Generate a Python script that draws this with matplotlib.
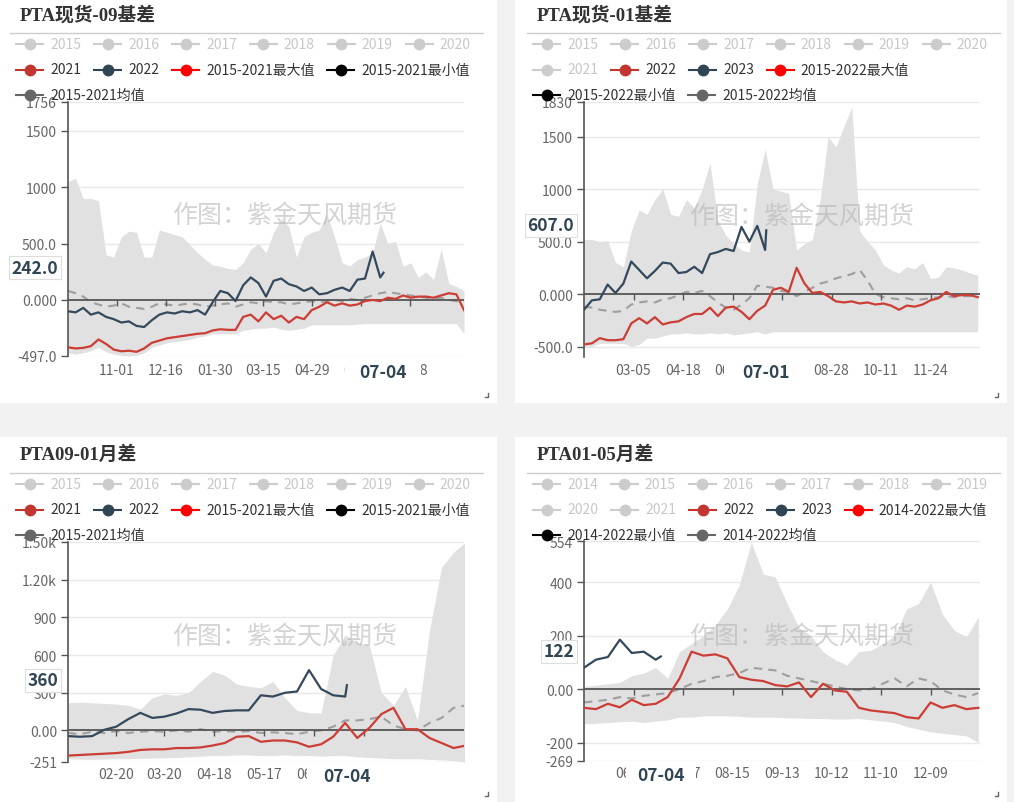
import matplotlib
matplotlib.use("Agg")
import matplotlib.pyplot as plt
import matplotlib.dates as mdates
from matplotlib.patches import Rectangle
from matplotlib.lines import Line2D
import pandas as pd

plt.rcParams['font.family'] = ['Noto Sans CJK SC', 'DejaVu Sans']

# ---------------- 数据 (周度取样, 从图上读数) ----------------
# PTA现货-09基差
p1_start, p1_end = "2021-09-17", "2022-09-16"
p1_now, p1_now_val = "2022-07-04", 242.0
p1_xticks = ["2021-11-01", "2021-12-16", "2022-01-30", "2022-03-15",
             "2022-04-29", "2022-06-13", "2022-07-28"]
p1_yticks = [-497, 0, 500, 1000, 1500, 1756]
p1_ylabels = ["-497.0", "0.000", "500.0", "1000", "1500", "1756"]
p1_legend = ["2015", "2016", "2017", "2018", "2019", "2020", "2021", "2022",
             "2015-2021最大值", "2015-2021最小值", "2015-2021均值"]
p1_2021 = [-420, -430, -425, -410, -350, -390, -440, -455, -450, -460,
           -430, -380, -360, -340, -330, -320, -310, -300, -295, -270,
           -260, -265, -265, -150, -130, -190, -110, -170, -140, -200,
           -150, -170, -90, -60, -20, -50, -30, -50, -40, -10,
           0, -10, 20, 10, 40, 20, 30, 30, 20, 40,
           60, 50, -90]
p1_2022 = [-100, -110, -70, -130, -110, -150, -170, -200, -190, -230,
           -240, -180, -130, -110, -120, -100, -110, -90, -130, -20,
           80, 60, -10, 130, 200, 150, 30, 170, 190, 140,
           120, 80, 110, 50, 60, 90, 110, 80, 180, 190,
           430, 200]
p1_mean = [80, 60, 30, -20, -40, -60, -50, -30, -60, -70,
           -80, -60, -30, -40, -50, -40, -30, -40, -60, -50,
           -40, -30, -60, -40, -20, -30, -10, -20, -20, -40,
           -30, -20, -10, -20, -10, 0, -10, 10, 0, 20,
           40, 60, 70, 60, 50, 40, 30, 20, 10, 20,
           0, -10, -20]
p1_max = [1050, 1080, 900, 900, 880, 400, 380, 560, 610, 600,
          380, 380, 620, 600, 580, 560, 490, 420, 360, 310,
          300, 280, 270, 330, 450, 500, 420, 600, 720, 650,
          380, 560, 600, 620, 760, 560, 330, 300, 360, 380,
          420, 680, 500, 520, 300, 330, 200, 250, 180, 450,
          150, 120, 80]
p1_min = [-470, -480, -470, -450, -420, -460, -480, -490, -497, -490,
          -470, -420, -400, -380, -370, -360, -350, -330, -320, -300,
          -300, -300, -300, -270, -260, -250, -250, -240, -260, -270,
          -260, -250, -220, -220, -220, -220, -220, -220, -215, -210,
          -210, -210, -210, -210, -210, -210, -210, -210, -210, -210,
          -210, -210, -300]

# PTA现货-01基差
p2_start, p2_end = "2022-01-20", "2023-01-07"
p2_now, p2_now_val = "2022-07-01", 607.0
p2_xticks = ["2022-03-05", "2022-04-18", "2022-06-01", "2022-07-15",
             "2022-08-28", "2022-10-11", "2022-11-24"]
p2_yticks = [-500, 0, 500, 1000, 1500, 1830]
p2_ylabels = ["-500.0", "0.000", "500.0", "1000", "1500", "1830"]
p2_legend = ["2015", "2016", "2017", "2018", "2019", "2020", "2021", "2022", "2023",
             "2015-2022最大值", "2015-2022最小值", "2015-2022均值"]
p2_2022 = [-480, -470, -420, -440, -440, -430, -280, -230, -280, -220,
           -290, -270, -260, -220, -190, -190, -130, -210, -130, -120,
           -170, -240, -160, -110, 40, 60, 20, 250, 100, 10,
           20, -20, -70, -80, -70, -90, -80, -100, -90, -110,
           -150, -110, -120, -100, -60, -40, 20, -20, -10, -10,
           -30]
p2_2023 = [-150, -60, -50, 90, 10, 100, 310, 230, 150, 220,
           300, 290, 200, 210, 260, 200, 380, 400, 430, 410,
           640, 500, 650, 420]
p2_mean = [-120, -130, -150, -160, -170, -160, -100, -80, -70, -80,
           -50, -40, -10, 20, 10, 30, -20, -80, -130, -150,
           -100, -40, 80, 70, 60, 30, 20, -20, 20, 60,
           100, 120, 150, 170, 190, 230, 130, 0, -30, -40,
           -50, -40, -60, -50, -40, -30, -20, -30, -20, -20,
           -30]
p2_max = [520, 520, 500, 510, 300, 260, 600, 800, 760, 900,
          1000, 760, 740, 900, 820, 1000, 1250, 700, 560, 480,
          420, 400, 1050, 1380, 1000, 980, 960, 420, 480, 520,
          900, 1500, 1400, 1600, 1780, 600, 500, 420, 280, 230,
          200, 260, 240, 300, 150, 160, 260, 250, 230, 200,
          180]
p2_min = [-500, -500, -470, -470, -470, -470, -500, -480, -420, -420,
          -400, -380, -380, -370, -380, -380, -370, -380, -370, -390,
          -380, -370, -360, -380, -360, -360, -360, -360, -360, -360,
          -360, -360, -360, -360, -360, -360, -360, -360, -360, -360,
          -360, -360, -360, -360, -360, -360, -360, -360, -360, -360,
          -360]

# PTA09-01月差
p3_start, p3_end = "2022-01-23", "2022-09-10"
p3_now, p3_now_val = "2022-07-04", 360
p3_xticks = ["2022-02-20", "2022-03-20", "2022-04-18", "2022-05-17",
             "2022-06-15", "2022-07-14"]
p3_yticks = [-251, 0, 300, 600, 900, 1200, 1500]
p3_ylabels = ["-251", "0.00", "300", "600", "900", "1.20k", "1.50k"]
p3_legend = p1_legend
p3_2021 = [-200, -195, -190, -185, -180, -170, -155, -150, -150, -140,
           -140, -135, -120, -100, -50, -45, -90, -80, -80, -95,
           -130, -110, -50, 60, -60, 20, 130, 180, 10, 10,
           -60, -100, -140, -120]
p3_2022 = [-45, -50, -45, 5, 30, 90, 140, 100, 110, 135,
           170, 165, 140, 155, 160, 160, 280, 270, 300, 310,
           480, 330, 280, 270]
p3_mean = [-20, -30, -10, -20, -5, -20, -10, -5, -10, 0,
           -10, 10, -10, -5, -10, -5, -20, -15, -20, -30,
           -10, 0, 30, 80, 80, 90, 110, 40, 10, 0,
           60, 100, 180, 200]
p3_max = [220, 225, 220, 215, 210, 200, 170, 260, 290, 280,
          300, 390, 470, 440, 370, 350, 340, 390, 260, 160,
          140, 140, 600, 760, 700, 680, 300, 200, 350, 80,
          800, 1300, 1420, 1500]
p3_min = [-225, -228, -230, -228, -225, -225, -222, -220, -218, -215,
          -210, -205, -200, -200, -195, -195, -200, -200, -195, -200,
          -200, -205, -200, -200, -210, -215, -220, -225, -225, -225,
          -230, -235, -240, -251]

# PTA01-05月差
p4_start, p4_end = "2022-05-20", "2023-01-07"
p4_now, p4_now_val = "2022-07-04", 122
p4_xticks = ["2022-06-18", "2022-07-17", "2022-08-15", "2022-09-13",
             "2022-10-12", "2022-11-10", "2022-12-09"]
p4_yticks = [-269, -200, 0, 200, 400, 554]
p4_ylabels = ["-269", "-200", "0.00", "200", "400", "554"]
p4_legend = ["2014", "2015", "2016", "2017", "2018", "2019", "2020", "2021", "2022", "2023",
             "2014-2022最大值", "2014-2022最小值", "2014-2022均值"]
p4_2022 = [-70, -75, -55, -68, -40, -60, -55, -30, 40, 140,
           125, 130, 115, 45, 35, 30, 15, 10, 25, -30,
           20, -5, -10, -70, -80, -85, -90, -105, -110, -50,
           -70, -60, -75, -70]
p4_2023 = [80, 110, 120, 185, 135, 140, 110]
p4_mean = [-50, -45, -40, -30, -35, -25, -20, -15, 0, 20,
           30, 45, 50, 60, 80, 75, 70, 50, 40, 30,
           20, 10, 0, -5, 0, 20, 40, 10, 40, 30,
           -5, -20, -30, -15]
p4_max = [10, 15, 20, 25, 50, 60, 80, 40, 140, 170,
          200, 240, 300, 390, 550, 430, 420, 320, 230, 200,
          140, 110, 90, 140, 145, 170, 200, 300, 320, 400,
          280, 220, 195, 270]
p4_min = [-130, -128, -125, -122, -120, -125, -120, -115, -105, -105,
          -100, -100, -100, -102, -105, -105, -105, -108, -108, -110,
          -110, -112, -112, -110, -115, -120, -125, -140, -150, -160,
          -165, -170, -175, -200]

RED, BLUE = '#c23531', '#2f4554'
ACTIVE = [RED, BLUE, '#ff0000', '#000000', '#666666']

# ---------------- 画布 ----------------
W, H = 1014, 803
fig = plt.figure(figsize=(W / 100, H / 100), dpi=100)
fig.patch.set_facecolor('#f2f2f2')
renderer = fig.canvas.get_renderer()
PT = 0.72  # 像素 -> 磅


def fx(x):
    return x / W


def fy(y):
    return 1 - y / H


def legend(ox, oy, names):
    colors = ['#cccccc'] * (len(names) - 5) + ACTIVE
    x, y = ox + 16, oy + 45
    for name, c in zip(names, colors):
        t = fig.text(0, 0, name, fontsize=10, va='center',
                     color='#333333' if c != '#cccccc' else '#c8c8c8')
        tw = t.get_window_extent(renderer).width
        w = 34 + tw
        if x + w > ox + 488 and x > ox + 16:
            x, y = ox + 16, y + 25.5
        t.set_position((fx(x + 34), fy(y)))
        fig.add_artist(Line2D([fx(x), fx(x + 27)], [fy(y)] * 2, color=c, lw=1.5,
                              transform=fig.transFigure))
        fig.add_artist(Line2D([fx(x + 13.5)], [fy(y)], marker='o', ms=7.5, color=c,
                              transform=fig.transFigure))
        x += w + 13


def panel(ox, oy, rect, title, names, box, wm_y, lab_dy, half_w,
          start, end, now, now_val, now_txt, xticks, yticks, ylabels, ylim,
          prev, cur, mean, vmax, vmin):
    rx0, ry0, rx1, ry1 = rect
    fig.add_artist(Rectangle((fx(rx0), fy(ry1)), (rx1 - rx0) / W, (ry1 - ry0) / H,
                             transform=fig.transFigure, fc='white', ec='none', zorder=-5))
    # 右下角缩放标记
    fig.add_artist(Line2D([fx(rx1 - 12), fx(rx1 - 9), fx(rx1 - 9)],
                          [fy(ry1 - 6), fy(ry1 - 6), fy(ry1 - 10)], color='#666666', lw=1,
                          transform=fig.transFigure))
    fig.text(fx(ox + 20), fy(oy + 15), title, fontsize=13.5, fontweight='bold',
             family=['Liberation Serif', 'Noto Sans CJK SC'], color='#333333', va='center')
    fig.add_artist(Line2D([fx(ox + 10), fx(ox + 483)], [fy(oy + 34)] * 2, color='#cccccc',
                          lw=1, transform=fig.transFigure))
    legend(ox, oy, names)

    l, t, r, b = box
    ax = fig.add_axes([fx(l), fy(b), (r - l) / W, (b - t) / H])
    ax.set_facecolor('none')
    days = pd.date_range(start, periods=len(prev), freq='7D')
    cur_days = list(pd.date_range(start, periods=len(cur), freq='7D')) + [pd.Timestamp(now)]
    cur_vals = list(cur) + [now_val]
    xt = pd.to_datetime(xticks)

    ax.set_xlim(pd.Timestamp(start), pd.Timestamp(end))
    ax.set_ylim(*ylim)
    for s in ['top', 'right', 'bottom']:
        ax.spines[s].set_visible(False)
    ax.spines['left'].set_color('#555555')
    ax.spines['left'].set_linewidth(1.2)
    ax.set_yticks(yticks, ylabels)
    ax.tick_params(axis='y', length=5, width=1, color='#555555', labelcolor='#666666',
                   labelsize=10, pad=3)
    ax.set_xticks(xt, [d.strftime('%m-%d') for d in xt])
    ax.tick_params(axis='x', length=0, labelcolor='#666666', labelsize=10,
                   pad=lab_dy * PT - 5)
    for v in yticks:
        if v != 0:
            ax.axhline(v, color='#e8e8e8', lw=1, zorder=0.5)

    ax.fill_between(days, vmin, vmax, color='#e1e1e1', lw=0, zorder=1)
    ax.text(fx(ox + 285), fy(oy + wm_y), '作图：紫金天风期货', transform=fig.transFigure,
            fontsize=18, color='#b0b0b0', alpha=0.55, ha='center', va='center', zorder=1.5)
    ax.plot(days, mean, color='#9e9e9e', lw=1.5, ls=(0, (4, 3)), zorder=2)
    ax.axhline(0, color='#555555', lw=1.3, zorder=3)
    ax.plot(xt, [0] * len(xt), ls='none', marker=3, ms=4, mew=1, color='#555555',
            zorder=3, clip_on=False)
    ax.plot(days, prev, color='#cc3d35', lw=1.6, zorder=4)
    ax.plot(cur_days, cur_vals, color='#34495c', lw=1.6, zorder=5)

    # x 轴当前日期标签 (白底遮住附近刻度标签)
    cx = ax.transData.transform((mdates.date2num(pd.Timestamp(now)), 0))[0]
    cy = b + lab_dy + 2
    fig.add_artist(Rectangle((fx(cx - half_w), fy(cy + 10)), 2 * half_w / W, 20 / H,
                             transform=fig.transFigure, fc='white', ec='none', zorder=1))
    fig.text(fx(cx), fy(cy), pd.Timestamp(now).strftime('%m-%d'), ha='center', va='center',
             fontsize=12.5, fontweight='bold', color=BLUE, zorder=4)
    ax.annotate(now_txt, xy=(0, now_val), xycoords=('axes fraction', 'data'),
                xytext=(-10 * PT, 5 * PT), textcoords='offset points', ha='right', va='center',
                fontsize=12.5, fontweight='bold', color=BLUE, annotation_clip=False, zorder=6,
                bbox=dict(boxstyle='square,pad=0.15', fc='white', ec='#dddddd', lw=0.8))
    return ax


panel(0, 0, (0, 0, 497, 404), 'PTA现货-09基差', p1_legend, (68, 103, 464, 357), 216, 14, 38,
      p1_start, p1_end, p1_now, p1_now_val, f'{p1_now_val:.1f}', p1_xticks,
      p1_yticks, p1_ylabels, (-497, 1756), p1_2021, p1_2022, p1_mean, p1_max, p1_min)
panel(517, 0, (515, 0, 1007, 404), 'PTA现货-01基差', p2_legend, (584, 103, 980, 358), 217, 13, 42,
      p2_start, p2_end, p2_now, p2_now_val, f'{p2_now_val:.1f}', p2_xticks,
      p2_yticks, p2_ylabels, (-600, 1830), p2_2022, p2_2023, p2_mean, p2_max, p2_min)
panel(0, 440, (0, 438, 497, 803), 'PTA09-01月差', p3_legend, (68, 543, 464, 763), 197, 12, 40,
      p3_start, p3_end, p3_now, p3_now_val, f'{p3_now_val}', p3_xticks,
      p3_yticks, p3_ylabels, (-251, 1500), p3_2021, p3_2022, p3_mean, p3_max, p3_min)
panel(517, 440, (515, 438, 1007, 803), 'PTA01-05月差', p4_legend, (584, 542, 980, 762), 197, 12, 35,
      p4_start, p4_end, p4_now, p4_now_val, f'{p4_now_val}', p4_xticks,
      p4_yticks, p4_ylabels, (-269, 554), p4_2022, p4_2023, p4_mean, p4_max, p4_min)

fig.savefig('out.png', dpi=100)
